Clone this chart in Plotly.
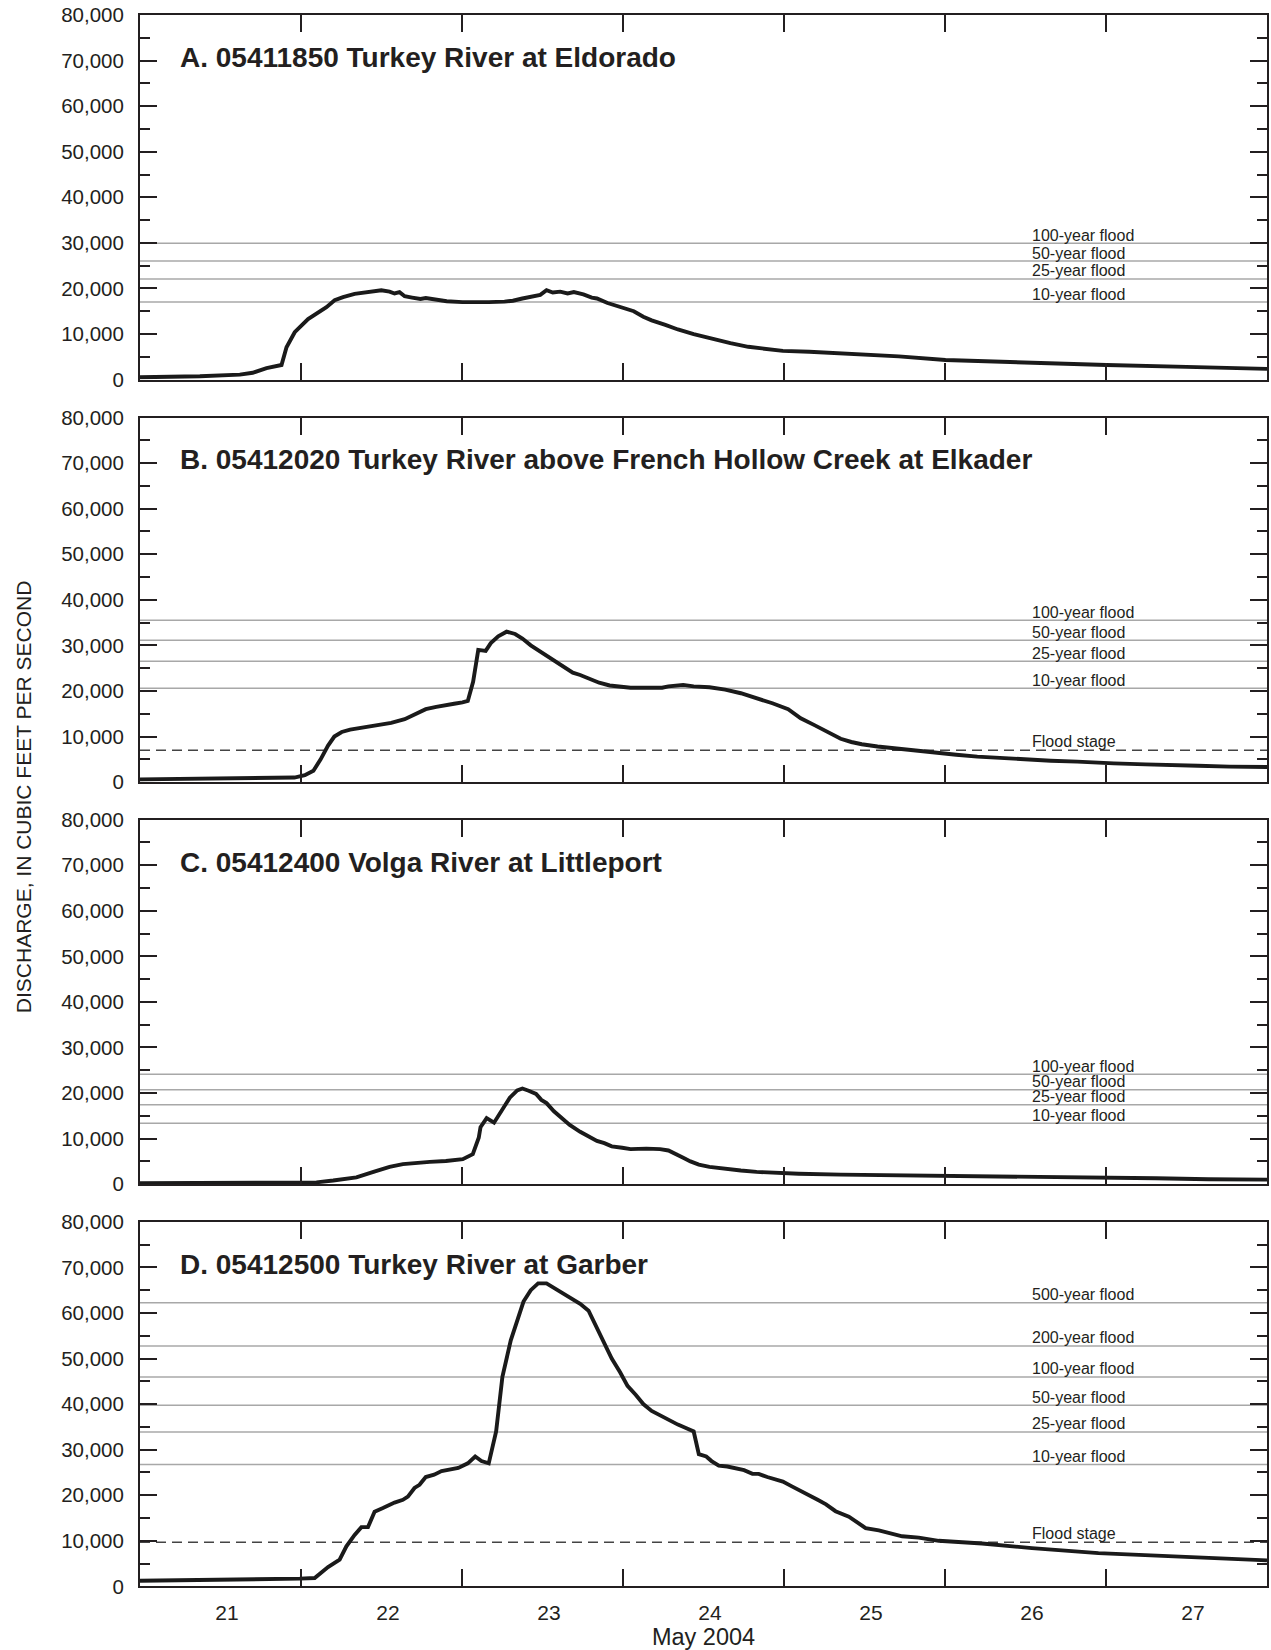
import plotly.graph_objects as go

# ---------------- data (day of May 2004, fractional; discharge cfs) ----------------
a_day = [21.000, 21.372, 21.620, 21.700, 21.786, 21.879, 21.910, 21.961, 22.044, 22.096, 22.158, 22.209,
         22.261, 22.333, 22.416, 22.499, 22.550, 22.581, 22.612, 22.644, 22.690, 22.742, 22.775, 22.840,
         22.905, 23.003, 23.101, 23.166, 23.264, 23.316, 23.375, 23.440, 23.486, 23.525, 23.564, 23.610,
         23.656, 23.695, 23.754, 23.806, 23.838, 23.904, 23.982, 24.067, 24.126, 24.178, 24.263, 24.341,
         24.439, 24.550, 24.667, 24.778, 24.896, 24.993, 25.157, 25.400, 25.713, 26.003, 26.500, 27.003,
         27.500, 28.000]
a_flow = [500, 730, 1100, 1500, 2500, 3200, 7100, 10400, 13300, 14400, 15900, 17400,
          18100, 18800, 19300, 19600, 19300, 18900, 19200, 18300, 18000, 17700, 17900, 17500,
          17200, 17000, 16900, 17000, 17100, 17300, 17800, 18200, 18600, 19600, 19100, 19300,
          18900, 19200, 18700, 18000, 17800, 16800, 16000, 15000, 13800, 13000, 12000, 11000,
          10000, 9000, 8000, 7200, 6700, 6300, 6100, 5700, 5100, 4300, 3700, 3200,
          2800, 2350]

b_day = [21.000, 21.437, 21.763, 21.959, 22.024, 22.077, 22.122, 22.168, 22.207, 22.253, 22.305, 22.383,
         22.481, 22.560, 22.644, 22.710, 22.775, 22.840, 22.905, 22.951, 23.003, 23.036, 23.069, 23.101,
         23.147, 23.179, 23.225, 23.277, 23.330, 23.375, 23.427, 23.493, 23.558, 23.623, 23.688, 23.734,
         23.799, 23.852, 23.917, 23.982, 24.047, 24.243, 24.282, 24.374, 24.439, 24.537, 24.635, 24.732,
         24.830, 24.928, 25.026, 25.104, 25.189, 25.268, 25.352, 25.418, 25.483, 25.581, 25.679, 25.809,
         25.940, 26.070, 26.201, 26.331, 26.494, 26.657, 26.821, 26.918, 27.049, 27.245, 27.375, 27.571,
         27.767, 28.000]
b_flow = [600, 700, 800, 1000, 1500, 2500, 5000, 8000, 10000, 11000, 11500, 12000,
          12500, 13000, 13800, 15000, 16000, 16500, 16800, 17200, 17500, 17800, 22000, 29000,
          28800, 30500, 32000, 33000, 32500, 31500, 30000, 28500, 27000, 25500, 24000, 23500,
          22500, 21800, 21200, 21000, 20700, 20700, 21000, 21300, 21000, 20800, 20300, 19500,
          18500, 17300, 16000, 14000, 12500, 11000, 9500, 8800, 8300, 7800, 7400, 7000,
          6500, 6000, 5600, 5300, 5000, 4700, 4500, 4300, 4100, 3900, 3700, 3600,
          3400, 3300]

c_day = [21.000, 22.024, 22.096, 22.200, 22.344, 22.450, 22.550, 22.633, 22.720, 22.800, 22.900, 23.005,
         23.067, 23.104, 23.115, 23.153, 23.199, 23.245, 23.297, 23.343, 23.375, 23.414, 23.460, 23.493,
         23.525, 23.571, 23.623, 23.669, 23.734, 23.786, 23.838, 23.884, 23.930, 23.995, 24.047, 24.145,
         24.230, 24.282, 24.321, 24.374, 24.419, 24.471, 24.537, 24.635, 24.732, 24.830, 24.928, 25.091,
         25.352, 25.679, 26.005, 26.331, 26.657, 26.984, 27.310, 27.636, 28.000]
c_flow = [200, 250, 400, 800, 1500, 2700, 3800, 4400, 4700, 4900, 5100, 5500,
          6600, 10200, 12500, 14500, 13500, 16000, 19000, 20600, 21000, 20500, 19800, 18500,
          17800, 16000, 14500, 13000, 11500, 10500, 9500, 9000, 8300, 8000, 7700, 7800,
          7700, 7400, 6800, 5800, 5000, 4300, 3800, 3300, 3000, 2700, 2500, 2300,
          2100, 2000, 1900, 1800, 1600, 1400, 1300, 1100, 1000]

d_day = [21.000, 21.577, 21.992, 22.085, 22.168, 22.240, 22.282, 22.333, 22.375, 22.416, 22.457, 22.509,
         22.581, 22.633, 22.664, 22.705, 22.736, 22.775, 22.827, 22.873, 22.925, 22.977, 23.036, 23.082,
         23.121, 23.166, 23.212, 23.251, 23.303, 23.343, 23.382, 23.427, 23.473, 23.525, 23.571, 23.623,
         23.688, 23.734, 23.786, 23.832, 23.884, 23.930, 23.982, 24.028, 24.080, 24.126, 24.178, 24.230,
         24.289, 24.341, 24.387, 24.439, 24.471, 24.517, 24.550, 24.595, 24.648, 24.700, 24.752, 24.804,
         24.843, 24.896, 24.948, 24.993, 25.046, 25.104, 25.157, 25.209, 25.261, 25.320, 25.403, 25.507,
         25.589, 25.734, 25.837, 25.961, 26.230, 26.540, 26.953, 27.367, 28.000]
d_flow = [1250, 1400, 1700, 1850, 4250, 5850, 8800, 11300, 13000, 13000, 16400, 17200,
          18400, 19000, 19700, 21600, 22300, 24000, 24500, 25300, 25600, 26000, 27000, 28500,
          27500, 27000, 34000, 46000, 54000, 58000, 62500, 65000, 66500, 66500, 65500, 64500,
          63000, 62000, 60500, 57000, 53500, 50000, 47000, 44000, 42000, 40000, 38500, 37500,
          36500, 35500, 34800, 34000, 29000, 28500, 27500, 26500, 26300, 25800, 25500, 24700,
          24700, 24000, 23500, 23000, 22000, 21000, 20000, 19000, 18000, 16500, 15300, 12800,
          12300, 11000, 10700, 10000, 9400, 8400, 7300, 6600, 5700]

panel_titles = ["A. 05411850 Turkey River at Eldorado",
                "B. 05412020 Turkey River above French Hollow Creek at Elkader",
                "C. 05412400 Volga River at Littleport",
                "D. 05412500 Turkey River at Garber"]

a_flood_labels = ["100-year flood", "50-year flood", "25-year flood", "10-year flood"]
a_flood_values = [29900, 26000, 22100, 17000]
b_flood_labels = ["100-year flood", "50-year flood", "25-year flood", "10-year flood"]
b_flood_values = [35500, 31100, 26500, 20600]
c_flood_labels = ["100-year flood", "50-year flood", "25-year flood", "10-year flood"]
c_flood_values = [24100, 20750, 17450, 13350]
d_flood_labels = ["500-year flood", "200-year flood", "100-year flood", "50-year flood", "25-year flood", "10-year flood"]
d_flood_values = [62250, 52750, 45950, 39750, 33900, 26750]
flood_stage = [None, 7000, None, 9700]

day_ticks = [21, 22, 23, 24, 25, 26, 27]
day_labels = ["21", "22", "23", "24", "25", "26", "27"]

# ---------------- figure ----------------
W, H = 1271, 1650
ML, MR, MT, MB = 140, 2, 15, 63
PH = H - MT - MB
panel_top = [15, 417.5, 819.6, 1221.8]
panel_h = 364.6

FONT = "Liberation Sans, Arial, Helvetica, sans-serif"
INK = "#231f20"

days = [a_day, b_day, c_day, d_day]
flows = [a_flow, b_flow, c_flow, d_flow]
fl_labels = [a_flood_labels, b_flood_labels, c_flood_labels, d_flood_labels]
fl_values = [a_flood_values, b_flood_values, c_flood_values, d_flood_values]

fig = go.Figure()
layout = dict(width=W, height=H, margin=dict(l=ML, r=MR, t=MT, b=MB),
              paper_bgcolor="white", plot_bgcolor="white", showlegend=False,
              font=dict(family=FONT, color=INK))
annotations = []

for i in range(4):
    n = "" if i == 0 else str(i + 1)
    xa, ya = "x" + n, "y" + n
    top = panel_top[i]
    y1 = (H - MB - top) / PH
    y0 = (H - MB - top - panel_h) / PH

    # flood frequency lines
    for lab, val in zip(fl_labels[i], fl_values[i]):
        fig.add_trace(go.Scatter(x=[21, 28], y=[val, val], mode="lines",
                                 line=dict(color="#a8a8a8", width=1.5),
                                 xaxis=xa, yaxis=ya, hoverinfo="skip"))
        annotations.append(dict(x=26.526, y=val, xref=xa, yref=ya, text=lab,
                                showarrow=False, xanchor="left", yanchor="middle", yshift=8,
                                font=dict(size=16, color=INK, family=FONT)))
    if flood_stage[i] is not None:
        fig.add_trace(go.Scatter(x=[21, 28], y=[flood_stage[i]] * 2, mode="lines",
                                 line=dict(color="#444444", width=1.5, dash="10px,6px"),
                                 xaxis=xa, yaxis=ya, hoverinfo="skip"))
        annotations.append(dict(x=26.526, y=flood_stage[i], xref=xa, yref=ya, text="Flood stage",
                                showarrow=False, xanchor="left", yanchor="middle", yshift=9,
                                font=dict(size=16, color=INK, family=FONT)))

    fig.add_trace(go.Scatter(x=days[i], y=flows[i], mode="lines",
                             line=dict(color="#1a1a1a", width=3.9),
                             xaxis=xa, yaxis=ya))

    annotations.append(dict(x=38 / 1129, y=1 - 42.5 / panel_h, xref=xa + " domain", yref=ya + " domain",
                            text="<b>" + panel_titles[i] + "</b>", showarrow=False,
                            xanchor="left", yanchor="middle",
                            font=dict(size=28, color=INK, family=FONT)))

    xaxis = dict(domain=[0, 1], anchor=ya, range=[21, 28], tickmode="array",
                 tickvals=day_ticks, ticktext=day_labels, ticks="inside", ticklen=17,
                 tickwidth=1.5, tickcolor=INK, showline=True, linecolor=INK, linewidth=2,
                 mirror="ticks", showgrid=False, zeroline=False,
                 showticklabels=(i == 3), ticklabelshift=87, ticklabelstandoff=6,
                 tickfont=dict(size=21, color=INK, family=FONT))
    if i == 3:
        xaxis["title"] = dict(text="May 2004", font=dict(size=23.5, color=INK, family=FONT), standoff=1)
    yaxis = dict(domain=[y0, y1], anchor=xa, range=[0, 80000], tickmode="linear", tick0=0,
                 dtick=10000, tickformat=",", ticks="inside", ticklen=17, tickwidth=1.5,
                 tickcolor=INK, showline=True, linecolor=INK, linewidth=2, mirror="ticks",
                 showgrid=False, zeroline=False, ticklabelstandoff=10,
                 tickfont=dict(size=20.5, color=INK, family=FONT),
                 minor=dict(dtick=5000, ticks="inside", ticklen=10, tickwidth=1.5, tickcolor=INK,
                            showgrid=False))
    layout["xaxis" + n] = xaxis
    layout["yaxis" + n] = yaxis

annotations.append(dict(x=(23 - ML) / (W - ML - MR), y=(H - MB - 797) / PH, xref="paper", yref="paper",
                        text="DISCHARGE, IN CUBIC FEET PER SECOND", textangle=-90, showarrow=False,
                        xanchor="center", yanchor="middle",
                        font=dict(size=21, color=INK, family=FONT)))
layout["annotations"] = annotations
fig.update_layout(**layout)
fig.write_html("out.html")
